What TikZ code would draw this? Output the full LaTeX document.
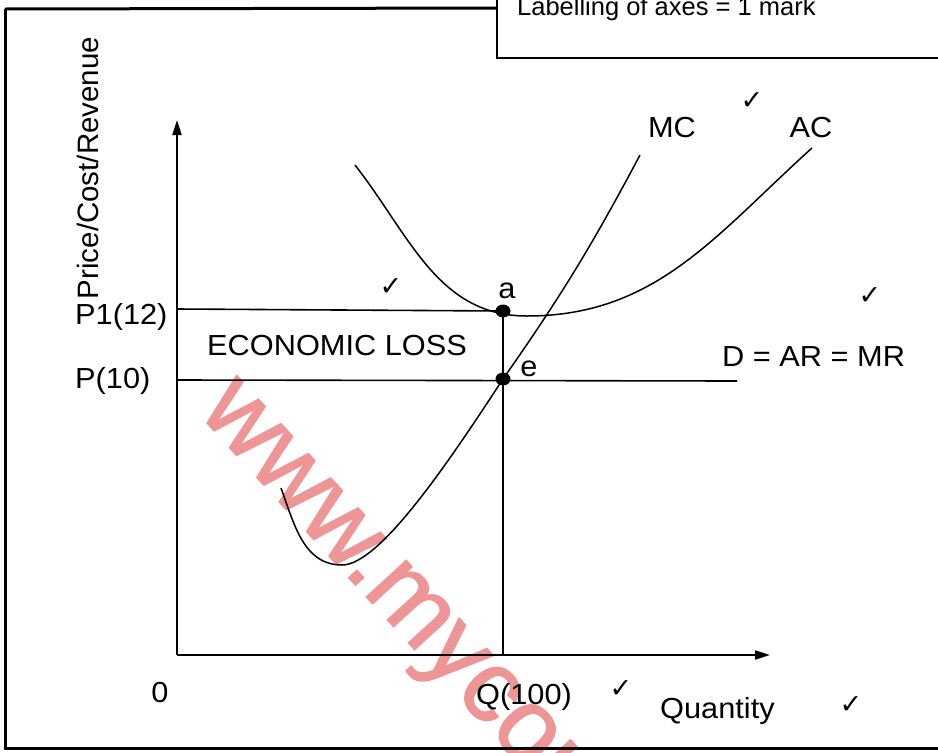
\documentclass[tikz,border=0pt]{standalone}
\usepackage{fontspec}
\setmainfont{Liberation Sans}
\newfontfamily\symfont{DejaVu Sans}
\newfontfamily\wmfont[FakeBold=1.6]{Liberation Sans}
\usetikzlibrary{arrows.meta,shapes.geometric}
\definecolor{wmred}{RGB}{238,150,150}
\tikzset{
  lbl/.style={inner sep=0pt, xscale=1.06, font=\fontsize{29}{32}\selectfont},
  tick/.style={inner sep=0pt, font=\symfont\fontsize{27}{28}\selectfont},
  axis/.style={line width=2pt, -{Triangle[length=15pt,width=9pt]}},
  guide/.style={line width=1.6pt},
  curve/.style={line width=1.5pt},
  frame/.style={line width=3pt},
  dot/.style={ellipse, fill=black, inner sep=0pt, minimum width=15pt, minimum height=13pt}
}
\begin{document}
\begin{tikzpicture}[x=1pt,y=-1pt]
\useasboundingbox (0,0) rectangle (938,753);
% watermark (behind the drawing)
\begin{scope}
\clip (0,0) rectangle (938,753);
\node[inner sep=0pt, anchor=base west, rotate=-47.5, text=wmred,
  font=\wmfont\fontsize{102}{102}\selectfont] (wm) at (197,412) {www.mycou};
\end{scope}
% frame
\draw[frame] (5,9) -- (5,748) -- (938,748);
\draw[frame] (5,9) -- (497,8);
\draw[line width=2pt] (497,-2) -- (497,58) -- (940,58);
\node[inner sep=0pt, anchor=base west, font=\fontsize{25.5}{28}\selectfont] (mark) at (517,15) {Labelling of axes = 1 mark};
% axes
\coordinate (O) at (177,655);
\coordinate (ytop) at (177,120);
\coordinate (xend) at (770,655);
\draw[axis] (O) -- (ytop);
\draw[axis] (O) -- (xend);
% points
\coordinate (a) at (503,311);
\coordinate (e) at (503,379);
\coordinate (q) at (503,655);
\coordinate (p1) at (177,309);
\coordinate (p) at (177,380);
\coordinate (dend) at (737,381);
\draw[guide] (p1) -- (a);
\draw[guide] (p) -- (dend);
\draw[guide] (a) -- (q);
% AC curve
\draw[curve] (355,165) to[out=-52,in=180] (527,316) to[out=0,in=-138] (812,148);
% MC curve
\draw[curve] (281,488) to[out=-70,in=180] (342,565) .. controls (380,565) and (450,460) .. (e) to[out=55,in=-118] (640,155);
\node[dot] (adot) at (a) {};
\node[dot] (edot) at (e) {};
% labels
\node[inner sep=0pt, rotate=90, font=\fontsize{29.5}{32}\selectfont] (ylab) at (88,168) {Price/Cost/Revenue};
\node[lbl, anchor=west] (lp1) at (75,317) {P1(12)};
\node[lbl, anchor=west] (lp) at (75,381) {P(10)};
\node[lbl] (l0) at (160,693) {0};
\node[lbl] (lq) at (524,697) {Q(100)};
\node[lbl, anchor=west] (lqty) at (660,711) {Quantity};
\node[lbl] (lmc) at (672,128) {MC};
\node[lbl] (lac) at (811,128) {AC};
\node[lbl, anchor=west] (ld) at (722,357) {D = AR = MR};
\node[lbl, anchor=west] (lloss) at (207,346) {ECONOMIC LOSS};
\node[lbl] (la) at (507,291) {a};
\node[lbl] (le) at (529,369) {e};
% ticks
\node[tick] (t1) at (752,101) {✓};
\node[tick] (t2) at (391,287) {✓};
\node[tick] (t3) at (870,296) {✓};
\node[tick] (t4) at (621,689) {✓};
\node[tick] (t5) at (851,705) {✓};
\end{tikzpicture}
\end{document}
